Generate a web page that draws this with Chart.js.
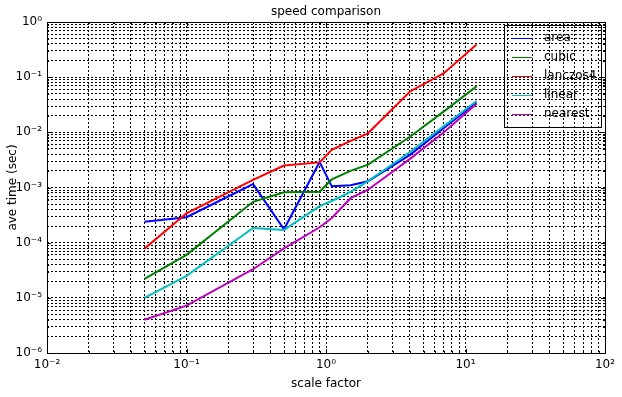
<!DOCTYPE html>
<html>
<head>
<meta charset="utf-8">
<script src="https://cdn.jsdelivr.net/npm/chart.js@4/dist/chart.umd.min.js"></script>
<style>
  html, body { margin: 0; padding: 0; background: #fff; }
  #wrap { width: 622px; height: 397px; }
</style>
</head>
<body>
<div id="wrap"><canvas id="c" width="622" height="397"></canvas></div>
<script>
// ---- data ----
const scaleFactors = [0.05, 0.1, 0.3, 0.5, 0.9, 1.1, 1.5, 2, 4, 7, 12];
const seriesNames = ['area', 'cubic', 'lanczos4', 'linear', 'nearest'];
const area     = [2.4e-4, 2.9e-4, 1.15e-3, 1.75e-4, 2.9e-3, 1.05e-3, 1.1e-3, 1.3e-3, 3.9e-3, 1.2e-2, 3.5e-2];
const cubic    = [2.2e-5, 6.0e-5, 5.5e-4, 8.2e-4, 8.4e-4, 1.4e-3, 2.0e-3, 2.6e-3, 8.3e-3, 2.4e-2, 6.8e-2];
const lanczos4 = [7.8e-5, 3.4e-4, 1.37e-3, 2.5e-3, 2.85e-3, 4.8e-3, 7.0e-3, 9.6e-3, 5.5e-2, 0.118, 0.39];
const linear   = [1.0e-5, 2.5e-5, 1.85e-4, 1.7e-4, 4.6e-4, 5.7e-4, 8.3e-4, 1.3e-3, 4.4e-3, 1.3e-2, 3.7e-2];
const nearest  = [4.0e-6, 7.2e-6, 3.3e-5, 7.9e-5, 1.9e-4, 2.8e-4, 6.4e-4, 9.1e-4, 3.3e-3, 1.0e-2, 3.3e-2];
const seriesColors = ['#0000ff', '#008000', '#ff0000', '#00bfbf', '#bf00bf'];

const xDecades = [-2, -1, 0, 1, 2];
const xTickLabels = ['10\u207B\u00B2', '10\u207B\u00B9', '10\u2070', '10\u00B9', '10\u00B2'];
const yDecades = [-6, -5, -4, -3, -2, -1, 0];
const yTickLabels = ['10\u207B\u2076', '10\u207B\u2075', '10\u207B\u2074', '10\u207B\u00B3', '10\u207B\u00B2', '10\u207B\u00B9', '10\u2070'];

const titleText = 'speed comparison';
const xTitle = 'scale factor';
const yTitle = 'ave time (sec)';

// ---- helpers ----
function logTicks(decades) {
  const out = [];
  for (let i = 0; i < decades.length - 1; i++) {
    for (let m = 1; m <= 9; m++) {
      out.push({ value: m * Math.pow(10, decades[i]), major: m === 1 });
    }
  }
  out.push({ value: Math.pow(10, decades[decades.length - 1]), major: true });
  return out;
}
function labelFor(value, decades, labels) {
  const l = Math.log10(value);
  const r = Math.round(l);
  if (Math.abs(l - r) < 1e-6) {
    const idx = decades.indexOf(r);
    return idx >= 0 ? labels[idx] : '';
  }
  return '';
}

const allSeries = [area, cubic, lanczos4, linear, nearest];
const datasets = seriesNames.map((name, i) => ({
  label: name,
  data: scaleFactors.map((x, j) => ({ x: x, y: allSeries[i][j] })),
  borderColor: seriesColors[i],
  backgroundColor: seriesColors[i],
  borderWidth: 2,
  pointRadius: 0,
  tension: 0,
  fill: false,
  order: seriesNames.length - 1 - i
}));

// frame, inward tick marks and legend drawn on top
const framePlugin = {
  id: 'frame',
  afterDraw(chart) {
    const ctx = chart.ctx;
    const a = chart.chartArea;
    ctx.save();
    ctx.strokeStyle = '#000';
    ctx.lineWidth = 1;
    ctx.setLineDash([]);
    // inward ticks
    const xs = chart.scales.x, ys = chart.scales.y;
    ctx.beginPath();
    xs.ticks.forEach(t => {
      const px = Math.round(xs.getPixelForValue(t.value)) + 0.5;
      const len = t.major ? 4 : 2;
      ctx.moveTo(px, a.bottom); ctx.lineTo(px, a.bottom - len);
      ctx.moveTo(px, a.top); ctx.lineTo(px, a.top + len);
    });
    ys.ticks.forEach(t => {
      const py = Math.round(ys.getPixelForValue(t.value)) + 0.5;
      const len = t.major ? 4 : 2;
      ctx.moveTo(a.left, py); ctx.lineTo(a.left + len, py);
      ctx.moveTo(a.right, py); ctx.lineTo(a.right - len, py);
    });
    ctx.stroke();
    ctx.strokeRect(Math.round(a.left) + 0.5, Math.round(a.top) + 0.5,
                   Math.round(a.right - a.left), Math.round(a.bottom - a.top));

    // legend
    const w = 97, rowH = 19;
    const h = 102;
    const lx = Math.round(a.right) - 4 - w;
    const ly = Math.round(a.top) + 3;
    ctx.strokeRect(lx + 0.5, ly + 0.5, w, h);
    ctx.font = '12px "DejaVu Sans"';
    ctx.textBaseline = 'middle';
    ctx.textAlign = 'left';
    chart.data.datasets.forEach((ds, i) => {
      const yy = ly + 13 + i * rowH;
      ctx.strokeStyle = ds.borderColor;
      ctx.lineWidth = 1;
      ctx.beginPath();
      ctx.moveTo(lx + 8, yy + 0.5);
      ctx.lineTo(lx + 28, yy + 0.5);
      ctx.stroke();
      ctx.fillStyle = '#000';
      ctx.fillText(ds.label, lx + 40, yy);
    });
    ctx.restore();
  }
};

Chart.defaults.font.family = '"DejaVu Sans", sans-serif';
Chart.defaults.font.size = 12;
Chart.defaults.color = '#000';

new Chart(document.getElementById('c'), {
  type: 'line',
  data: { datasets: datasets },
  plugins: [framePlugin],
  options: {
    responsive: false,
    devicePixelRatio: 1,
    animation: false,
    layout: { padding: { left: 0, right: 17, top: 0, bottom: 0 } },
    plugins: {
      legend: { display: false },
      tooltip: { enabled: false },
      title: {
        display: true,
        text: titleText,
        fullSize: false,
        font: { size: 12, weight: 'normal' },
        color: '#000',
        padding: { top: 4.8, bottom: 2.8 }
      }
    },
    scales: {
      x: {
        type: 'logarithmic',
        min: 1e-2,
        max: 1e2,
        afterBuildTicks: s => { s.ticks = logTicks(xDecades); },
        afterFit: s => { s.height = 44; },
        ticks: {
          autoSkip: false,
          maxRotation: 0,
          padding: 5,
          font: { size: 12 },
          color: '#000',
          callback: v => labelFor(v, xDecades, xTickLabels)
        },
        grid: { color: '#000', lineWidth: 1, drawTicks: false },
        border: { display: false, dash: [2, 2] },
        title: { display: true, text: xTitle, font: { size: 12 }, color: '#000', padding: { top: 0, bottom: 5.8 } }
      },
      y: {
        type: 'logarithmic',
        min: 1e-6,
        max: 1,
        afterBuildTicks: s => { s.ticks = logTicks(yDecades); },
        afterFit: s => { s.width = 47; },
        ticks: {
          autoSkip: false,
          padding: 5,
          font: { size: 12 },
          color: '#000',
          callback: v => labelFor(v, yDecades, yTickLabels)
        },
        grid: { color: '#000', lineWidth: 1, drawTicks: false },
        border: { display: false, dash: [2, 2] },
        title: { display: true, text: yTitle, font: { size: 12 }, color: '#000', padding: { top: 5.8, bottom: 0 } }
      }
    }
  }
});
</script>
</body>
</html>
